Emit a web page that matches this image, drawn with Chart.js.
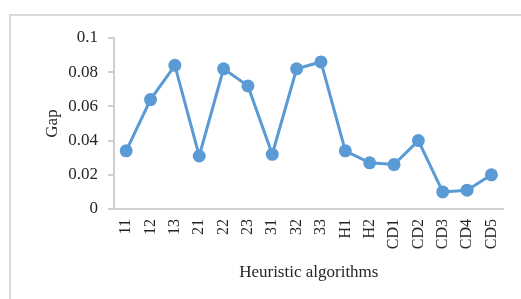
<!DOCTYPE html>
<html>
<head>
<meta charset="utf-8">
<script src="https://cdn.jsdelivr.net/npm/chart.js@4.4.1/dist/chart.umd.min.js"></script>
<style>
    html, body { margin: 0; padding: 0; background: #fff; overflow: hidden; }
    #wrap { width: 521px; height: 299px; }
</style>
</head>
<body>
<div id="wrap"><canvas id="gap-chart" width="521" height="299"></canvas></div>
<script>
const algorithms = ['11', '12', '13', '21', '22', '23', '31', '32', '33', 'H1', 'H2', 'CD1', 'CD2', 'CD3', 'CD4', 'CD5'];
const gapValues = [0.034, 0.064, 0.084, 0.031, 0.082, 0.072, 0.032, 0.082, 0.086, 0.034, 0.027, 0.026, 0.040, 0.010, 0.011, 0.020];
const yTickValues = [0, 0.02, 0.04, 0.06, 0.08, 0.1];
const yTickLabels = ['0', '0.02', '0.04', '0.06', '0.08', '0.1'];

const axisColor = '#cfcfcf';
const textColor = '#262626';
const fontFamily = '"Liberation Serif", "Times New Roman", serif';

// light grey frame around the whole chart, runs off the right and bottom edges
const framePlugin = {
    id: 'frame',
    beforeDraw(chart) {
        const ctx = chart.ctx;
        ctx.save();
        ctx.strokeStyle = '#d9d9d9';
        ctx.lineWidth = 2;
        ctx.strokeRect(10, 15, 700, 500);
        ctx.restore();
    }
};

new Chart(document.getElementById('gap-chart'), {
    type: 'line',
    data: {
        labels: algorithms,
        datasets: [{
            label: 'Gap',
            data: gapValues,
            borderColor: '#5b9bd5',
            backgroundColor: '#5b9bd5',
            borderWidth: 3,
            pointRadius: 6.5,
            pointHoverRadius: 6.5,
            pointBorderWidth: 0,
            tension: 0
        }]
    },
    options: {
        responsive: false,
        animation: false,
        layout: {
            padding: { left: 31, right: 12, top: 38, bottom: 0 }
        },
        plugins: {
            legend: { display: false },
            tooltip: { enabled: false }
        },
        scales: {
            x: {
                offset: true,
                grid: { display: false, drawTicks: false },
                border: { display: true, color: axisColor, width: 2 },
                ticks: {
                    color: textColor,
                    font: { family: fontFamily, size: 16 },
                    minRotation: 90,
                    maxRotation: 90,
                    padding: 10,
                    autoSkip: false
                },
                title: {
                    display: true,
                    text: 'Heuristic algorithms',
                    color: textColor,
                    font: { family: fontFamily, size: 17 },
                    padding: { top: 0, bottom: 16 }
                },
                afterFit(scale) { scale.height = 90; }
            },
            y: {
                min: 0,
                max: 0.1,
                afterBuildTicks(scale) {
                    scale.ticks = yTickValues.map(v => ({ value: v }));
                },
                grid: {
                    display: true,
                    drawOnChartArea: false,
                    drawTicks: true,
                    tickLength: 6,
                    color: axisColor,
                    lineWidth: 2
                },
                border: { display: true, color: axisColor, width: 2 },
                ticks: {
                    color: textColor,
                    font: { family: fontFamily, size: 17 },
                    padding: 10,
                    callback: (value, i) => yTickLabels[i]
                },
                title: {
                    display: true,
                    text: 'Gap',
                    color: textColor,
                    font: { family: fontFamily, size: 17 },
                    padding: { top: 11, bottom: 0 }
                },
                afterFit(scale) { scale.width = 83; }
            }
        }
    },
    plugins: [framePlugin]
});
</script>
</body>
</html>
